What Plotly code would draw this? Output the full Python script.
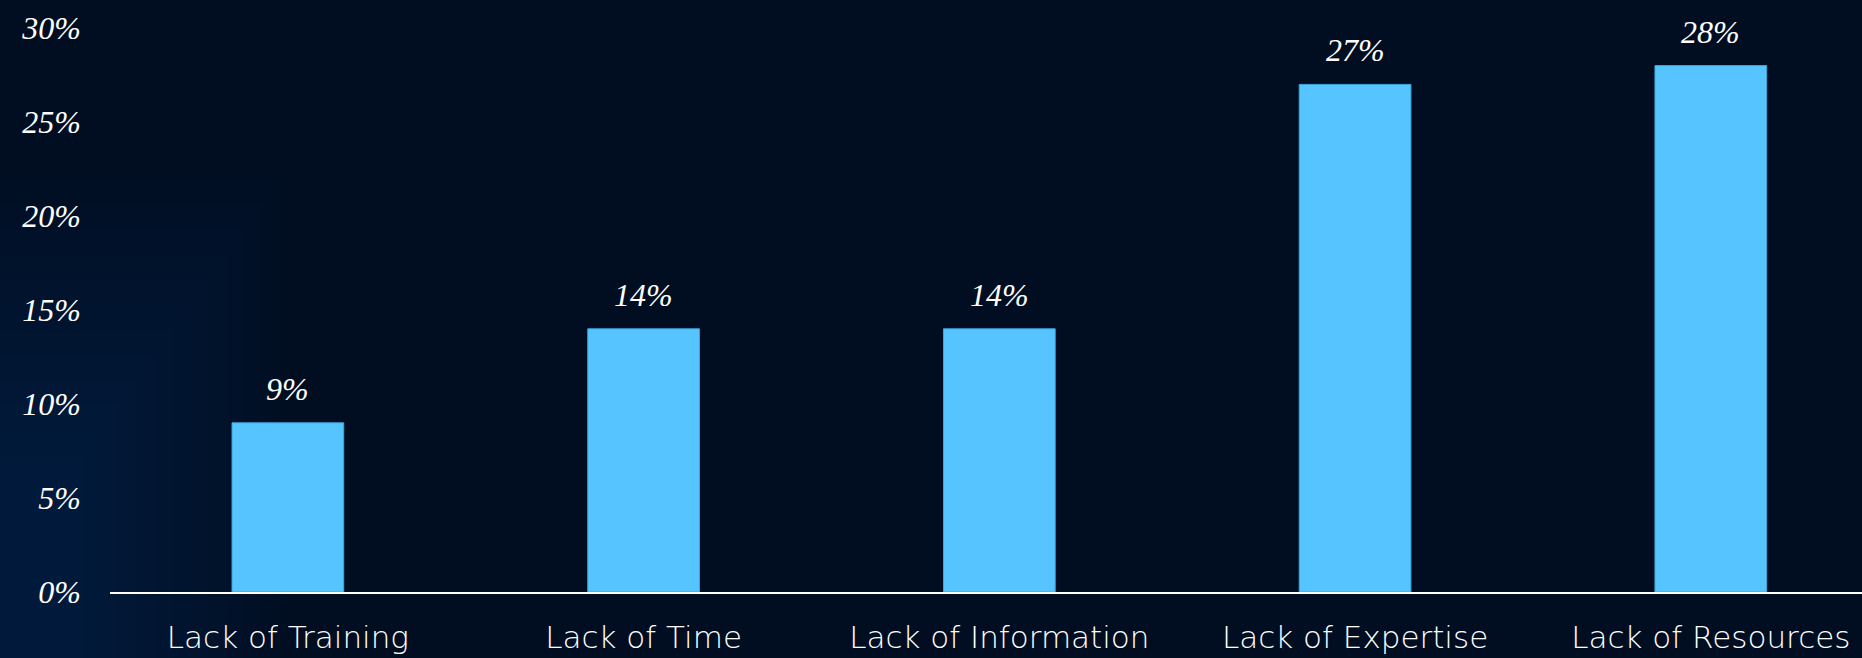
import plotly.graph_objects as go

categories = ["Lack of Training", "Lack of Time", "Lack of Information", "Lack of Expertise", "Lack of Resources"]
values = [9, 14, 14, 27, 28]
y_ticks = [0, 5, 10, 15, 20, 25, 30]
y_tick_labels = ["0%", "5%", "10%", "15%", "20%", "25%", "30%"]

W, H = 1862, 658
ML, MR, MT, MB = 110, 0, 28, 66
PW = W - ML - MR
PH = H - MT - MB

BAR_COLOR = "#56C4FF"
BG = "#010E21"

fig = go.Figure()
fig.add_trace(go.Bar(
    x=categories, y=values,
    marker=dict(color=BAR_COLOR, line=dict(color="#3FA6DD", width=1)),
    hoverinfo="skip",
))

for c, v in zip(categories, values):
    fig.add_annotation(
        x=c, y=v, text=f"{v}%", showarrow=False,
        yanchor="bottom", yshift=14,
        font=dict(family="Liberation Serif", size=32, color="white", style="italic"),
    )

def px_to_paper_x(px):
    return (px - ML) / PW

def py_to_paper_y(py):
    return (H - MB - py) / PH

shapes = []
n = 12
for i in range(n):
    x1 = 280 - i * 18
    shapes.append(dict(
        type="rect", xref="paper", yref="paper",
        x0=px_to_paper_x(0), x1=px_to_paper_x(x1),
        y0=py_to_paper_y(H), y1=py_to_paper_y(180 + i * 25),
        fillcolor="rgba(50,90,145,0.026)", line=dict(width=0), layer="below",
    ))

fig.update_layout(
    width=W, height=H,
    margin=dict(l=ML, r=MR, t=MT, b=MB, autoexpand=False),
    paper_bgcolor=BG, plot_bgcolor="rgba(0,0,0,0)",
    bargap=0.686,
    showlegend=False,
    shapes=shapes,
    xaxis=dict(
        range=[-0.5, 4.425], automargin=False,
        showline=True, linecolor="white", linewidth=2,
        showgrid=False, zeroline=False, ticks="",
        ticklabelstandoff=17,
        tickfont=dict(family="DejaVu Sans", size=31, color="white", weight=300),
        fixedrange=True,
    ),
    yaxis=dict(
        range=[0, 30], automargin=False,
        tickvals=y_ticks, ticktext=y_tick_labels,
        showline=False, showgrid=False, zeroline=False, ticks="",
        ticklabelstandoff=28,
        tickfont=dict(family="Liberation Serif", size=32, color="white", style="italic"),
        fixedrange=True,
    ),
)

fig.write_html("out.html", config={"displayModeBar": False},
               post_script="document.body.style.margin='0';document.body.style.overflow='hidden';")
